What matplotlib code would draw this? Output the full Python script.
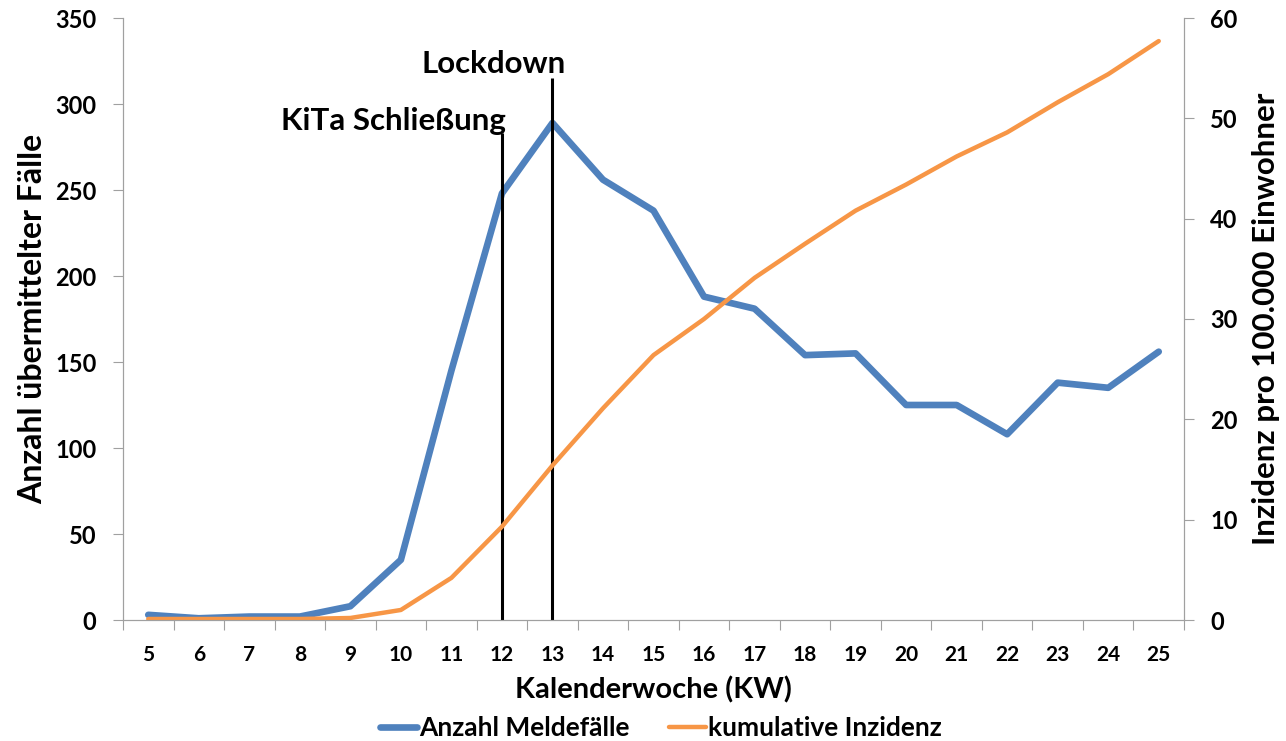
import numpy as np
import matplotlib
matplotlib.use('Agg')
import matplotlib.pyplot as plt
from matplotlib import font_manager
from matplotlib.ticker import FixedLocator

# pick the first family that really has a bold face installed
cands = ['Lato', 'Open Sans', 'Noto Sans', 'Roboto', 'Liberation Sans', 'DejaVu Sans']
bold_fams = {f.name for f in font_manager.fontManager.ttflist
             if isinstance(f.weight, int) and 600 <= f.weight <= 800
             or f.weight in ('bold', 'semibold', 'demibold')}
fam = next(c for c in cands if c in bold_fams)
plt.rcParams['font.family'] = [fam, 'DejaVu Sans']
plt.rcParams['font.weight'] = 'bold'

# Data
weeks = [str(w) for w in range(5, 26)]
meldefaelle = [3, 1, 2, 2, 8, 35, 145, 248, 289, 256, 238, 188, 181, 154, 155,
               125, 125, 108, 138, 135, 156]
inzidenz = [0.1, 0.1, 0.1, 0.1, 0.2, 1.0, 4.2, 9.3, 15.4, 21.1, 26.4, 30.0, 34.1,
            37.5, 40.8, 43.4, 46.2, 48.6, 51.6, 54.4, 57.7]
events = ['KiTa Schließung', 'Lockdown']
event_weeks = ['12', '13']
event_heights = [283, 315]

blue = '#4F81BD'
orange = '#F79646'
grey = '#A0A0A0'

fig = plt.figure(figsize=(12.86, 7.41), dpi=100)
ax = fig.add_axes([123 / 1286, 1 - 620 / 741, (1184 - 123) / 1286, (620 - 18) / 741])
ax2 = ax.twinx()

x = np.arange(len(weeks))
l1, = ax.plot(x, meldefaelle, color=blue, lw=4.8, solid_capstyle='round', zorder=3)
l2, = ax2.plot(x, inzidenz, color=orange, lw=3.2, solid_capstyle='round', zorder=2)

# event lines
for wk, h in zip(event_weeks, event_heights):
    ax.vlines(weeks.index(wk), 0, h, color='black', lw=2.2, zorder=5)
ax.text(weeks.index('12') + 0.08, 285, events[0], ha='right', va='baseline',
        fontsize=22.5, fontweight='bold')
ax.text(weeks.index('13') + 0.27, 318, events[1], ha='right', va='baseline',
        fontsize=22.5, fontweight='bold')

ax.set_xlim(-0.5, len(weeks) - 0.5)
ax.set_ylim(0, 350)
ax2.set_ylim(0, 60)
ax.set_yticks(range(0, 351, 50))
ax2.set_yticks(range(0, 61, 10))

ax.xaxis.set_major_locator(FixedLocator(np.arange(-0.5, len(weeks), 1)))
ax.set_xticklabels([])
ax.xaxis.set_minor_locator(FixedLocator(x))
ax.set_xticklabels(weeks, minor=True)
ax.tick_params(axis='x', which='minor', length=0, pad=18, labelsize=15)
ax.tick_params(axis='x', which='major', length=7, color=grey)

ax.tick_params(axis='y', length=7, color=grey, labelsize=17, pad=12)
ax2.tick_params(axis='y', length=7, color=grey, labelsize=17, pad=12)

for a in (ax, ax2):
    a.spines['top'].set_visible(False)
    for s in ('left', 'right', 'bottom'):
        a.spines[s].set_color(grey)

ax.set_xlabel('Kalenderwoche (KW)', fontsize=21, fontweight='bold', labelpad=8)
ax.set_ylabel('Anzahl übermittelter Fälle', fontsize=23, fontweight='bold', labelpad=6)
ax2.set_ylabel('Inzidenz pro 100.000 Einwohner', fontsize=22.5, fontweight='bold', labelpad=10)

fig.legend([l1, l2], ['Anzahl Meldefälle', 'kumulative Inzidenz'], loc='center',
           bbox_to_anchor=(661 / 1286, 1 - 728 / 741), ncol=2, frameon=False,
           handlelength=1.4, handletextpad=0.08, columnspacing=1.5,
           borderpad=0, prop={'weight': 'bold', 'size': 19})

fig.savefig('out.png', dpi=100)
